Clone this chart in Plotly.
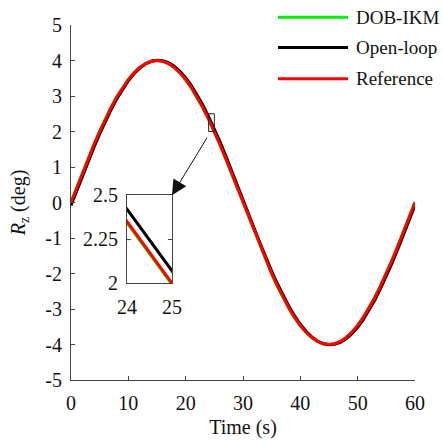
import plotly.graph_objects as go

# Time (s)
t = [0, 1, 2, 3, 4, 5, 6, 7, 8, 9, 10, 11, 12, 13, 14, 15, 16, 17, 18, 19, 20,
     21, 22, 23, 24, 25, 26, 27, 28, 29, 30, 31, 32, 33, 34, 35, 36, 37, 38, 39, 40,
     41, 42, 43, 44, 45, 46, 47, 48, 49, 50, 51, 52, 53, 54, 55, 56, 57, 58, 59, 60]

# Reference R_z (deg)
reference = [0.0, 0.418, 0.832, 1.236, 1.627, 2.0, 2.351, 2.677, 2.973, 3.236, 3.464,
             3.654, 3.804, 3.913, 3.978, 4.0, 3.978, 3.913, 3.804, 3.654, 3.464,
             3.236, 2.973, 2.677, 2.351, 2.0, 1.627, 1.236, 0.832, 0.418, 0.0,
             -0.418, -0.832, -1.236, -1.627, -2.0, -2.351, -2.677, -2.973, -3.236, -3.464,
             -3.654, -3.804, -3.913, -3.978, -4.0, -3.978, -3.913, -3.804, -3.654, -3.464,
             -3.236, -2.973, -2.677, -2.351, -2.0, -1.627, -1.236, -0.832, -0.418, 0.0]

# Open-loop R_z (deg)
open_loop = [-0.084, 0.335, 0.751, 1.159, 1.554, 1.931, 2.289, 2.620, 2.923, 3.194, 3.430,
             3.628, 3.787, 3.903, 3.978, 4.009, 3.996, 3.938, 3.839, 3.697, 3.513,
             3.293, 3.036, 2.745, 2.420, 2.070, 1.707, 1.318, 0.915, 0.502, 0.084,
             -0.335, -0.751, -1.159, -1.554, -1.931, -2.289, -2.620, -2.923, -3.194, -3.430,
             -3.628, -3.787, -3.903, -3.978, -4.009, -3.996, -3.938, -3.839, -3.697, -3.513,
             -3.293, -3.036, -2.745, -2.420, -2.070, -1.707, -1.318, -0.915, -0.502, -0.084]

# DOB-IKM R_z (deg)
dob_ikm = [0.014, 0.432, 0.846, 1.249, 1.640, 2.012, 2.362, 2.687, 2.982, 3.244, 3.471,
           3.660, 3.808, 3.916, 3.979, 4.0, 3.977, 3.910, 3.800, 3.648, 3.457,
           3.228, 2.964, 2.667, 2.343, 1.992, 1.614, 1.223, 0.818, 0.403, -0.014,
           -0.432, -0.846, -1.249, -1.640, -2.012, -2.362, -2.687, -2.982, -3.244, -3.471,
           -3.660, -3.808, -3.916, -3.979, -4.0, -3.977, -3.910, -3.800, -3.648, -3.457,
           -3.228, -2.964, -2.667, -2.343, -1.992, -1.614, -1.223, -0.818, -0.403, 0.014]

series = [("DOB-IKM", dob_ikm, "#00ee00"),
          ("Open-loop", open_loop, "#000000"),
          ("Reference", reference, "#ff0000")]

x_ticks = [0, 10, 20, 30, 40, 50, 60]
y_ticks = [-5, -4, -3, -2, -1, 0, 1, 2, 3, 4, 5]
y_labels = ["-5", "-4", "-3", "-2", "-1", "0", "1", "2", "3", "4", "5"]
inset_x_ticks = [24, 25]
inset_y_ticks = [2, 2.25, 2.5]
inset_y_labels = ["2", "2.25", "2.5"]

FONT = "Liberation Serif, Times New Roman, serif"
FS = 20

fig = go.Figure()
for name, vals, col in series:
    fig.add_trace(go.Scatter(x=t, y=vals, mode="lines", name=name,
                             line=dict(color=col, width=3),
                             xaxis="x", yaxis="y", showlegend=False))
for name, vals, col in series:
    fig.add_trace(go.Scatter(x=t, y=vals, mode="lines", name=name,
                             line=dict(color=col, width=3),
                             xaxis="x2", yaxis="y2", showlegend=False))

W, H = 443, 446
L, R, T, B = 71, 28, 25, 58
pw = W - L - R
ph = H - T - B

def px(xp):
    return (xp - L) / pw

def py(yp):
    return (H - B - yp) / ph

axis_common = dict(showgrid=False, zeroline=False, ticks="inside", ticklen=4,
                   tickcolor="#444", linecolor="#444", linewidth=1, showline=True,
                   tickfont=dict(family=FONT, size=FS, color="#111"))

fig.update_layout(
    width=W, height=H,
    margin=dict(l=L, r=R, t=T, b=B),
    paper_bgcolor="white", plot_bgcolor="white",
    font=dict(family=FONT, size=FS, color="#111"),
    xaxis=dict(range=[0, 60], tickvals=x_ticks, domain=[0, 1], anchor="y",
               title=dict(text="Time (s)", font=dict(family=FONT, size=FS), standoff=6),
               ticklabelstandoff=5, **axis_common),
    yaxis=dict(range=[-5, 5], tickvals=y_ticks, ticktext=y_labels, domain=[0, 1], anchor="x",
               title=dict(text="<i>R</i><sub>z</sub> (deg)", font=dict(family=FONT, size=FS), standoff=14),
               ticklabelstandoff=4, **axis_common),
    xaxis2=dict(range=[24, 25], tickvals=inset_x_ticks, domain=[px(127), px(172)], anchor="y2",
                mirror="ticks", ticklabelstandoff=6, **axis_common),
    yaxis2=dict(range=[2, 2.5], tickvals=inset_y_ticks, ticktext=inset_y_labels,
                domain=[py(289), py(199)], anchor="x2", mirror="ticks",
                ticklabelstandoff=4, **axis_common),
)

# zoom rectangle on main axes
fig.add_shape(type="rect", xref="x", yref="y", x0=inset_x_ticks[0], x1=inset_x_ticks[1],
              y0=inset_y_ticks[0], y1=inset_y_ticks[-1], line=dict(color="#222", width=1))

# arrow to inset
fig.add_annotation(x=inset_x_ticks[1], y=inset_y_ticks[-1], xref="x2", yref="y2",
                   ax=36, ay=-59, text="", showarrow=True, arrowhead=2, arrowsize=3,
                   arrowwidth=1, arrowcolor="#111", standoff=0)

# manual legend
leg_rows = [17, 48, 80]
for (name, vals, col), yp in zip(series, leg_rows):
    fig.add_shape(type="line", xref="paper", yref="paper", x0=px(278), x1=px(348),
                  y0=py(yp), y1=py(yp), line=dict(color=col, width=3))
    fig.add_annotation(xref="paper", yref="paper", x=px(354), y=py(yp), text=name,
                       showarrow=False, xanchor="left", yanchor="middle",
                       font=dict(family=FONT, size=19, color="#111"))

fig.write_html("out.html")
